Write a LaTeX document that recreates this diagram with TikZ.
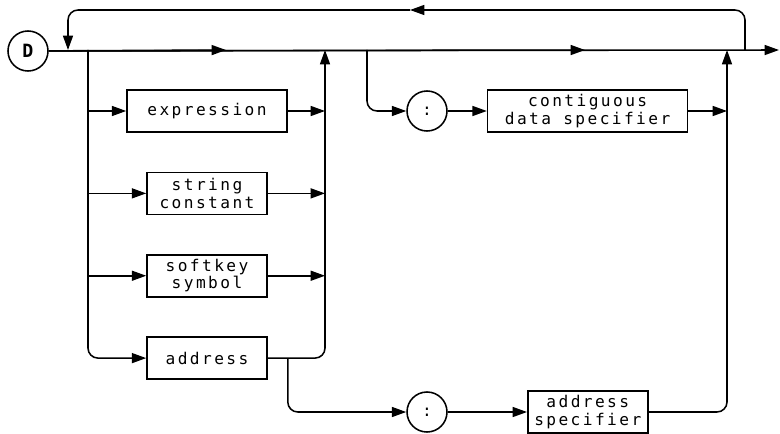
\documentclass[tikz,border=0pt]{standalone}
\usepackage{fontspec}
\newfontfamily\hpfont{DejaVu Sans Mono}[LetterSpace=15]
\usetikzlibrary{arrows.meta,positioning}

\begin{document}
\begin{tikzpicture}[
  x=0.025cm,
  y=-0.025cm,
  line/.style={line width=1.1pt},
  flow/.style={
    line,
    -{Triangle[length=3.6mm,width=2.5mm]}
  },
  item/.style={
    draw,
    line width=1.1pt,
    minimum width=3cm,
    minimum height=1.05cm,
    inner sep=1pt,
    align=center,
    font=\hpfont\fontsize{11.5}{12.5}\selectfont
  },
  term/.style={
    draw,
    circle,
    line width=1.1pt,
    minimum size=1cm,
    inner sep=0pt,
    font=\hpfont\fontsize{11.5}{12.5}\selectfont
  }
]
\useasboundingbox (0,0) rectangle (780,433);

\node[term,font=\hpfont\bfseries\fontsize{13}{14}\selectfont] (D) at (28,51) {D};

% left group of alternatives
\node[item,minimum width=4cm] (expr) at (207,111) {expression};
\node[item,below=.97cm of expr] (str) {string\\constant};
\node[item,below=.97cm of str] (key) {softkey\\symbol};
\node[item,below=.97cm of key] (addr) {address};

% right group
\node[term] (c1) at (427,111) {:};
\node[item,minimum width=5cm,right=.975cm of c1] (cds) {contiguous\\data specifier};
\node[term] (c2) at (427,412) {:};
\node[item,right=1.98cm of c2] (aspec) {address\\specifier};

\coordinate (a1) at (226,50);
\coordinate (a2) at (585,50);
\coordinate (out) at (779,50);
\coordinate (ls) at (88,50);
\coordinate (rs) at (325,50);
\coordinate (cs) at (367,50);
\coordinate (cj) at (727,50);
\coordinate (lb) at (745,50);
\coordinate (le) at (68,50);
\coordinate (top) at (410,10);
\coordinate (as) at ([xshift=.5cm]addr.east);

% main line
\draw[flow] (D) -- (out);
\draw[flow] (D) -- (a1);
\draw[flow] (D) -- (a2);

% repeat loop
\draw[flow,rounded corners=.25cm] (lb) |- (top);
\draw[flow,rounded corners=.25cm] (top) -| (le);

% alternatives
\draw[flow,rounded corners=.25cm] (ls) |- (addr);
\foreach \b in {expr,str,key} {
  \draw[flow] (ls |- \b) -- (\b);
  \draw[flow] (\b) -- (rs |- \b);
}
\draw[flow,rounded corners=.25cm] (addr) -| (rs);

% contiguous branch
\draw[flow,rounded corners=.25cm] (cs) |- (c1);
\draw[flow] (c1) -- (cds);
\draw[flow] (cds) -- (cj |- cds);

% address specifier branch
\draw[flow,rounded corners=.25cm] (as) |- (c2);
\draw[flow] (c2) -- (aspec);
\draw[flow,rounded corners=.25cm] (aspec) -| (cj);
\end{tikzpicture}
\end{document}
